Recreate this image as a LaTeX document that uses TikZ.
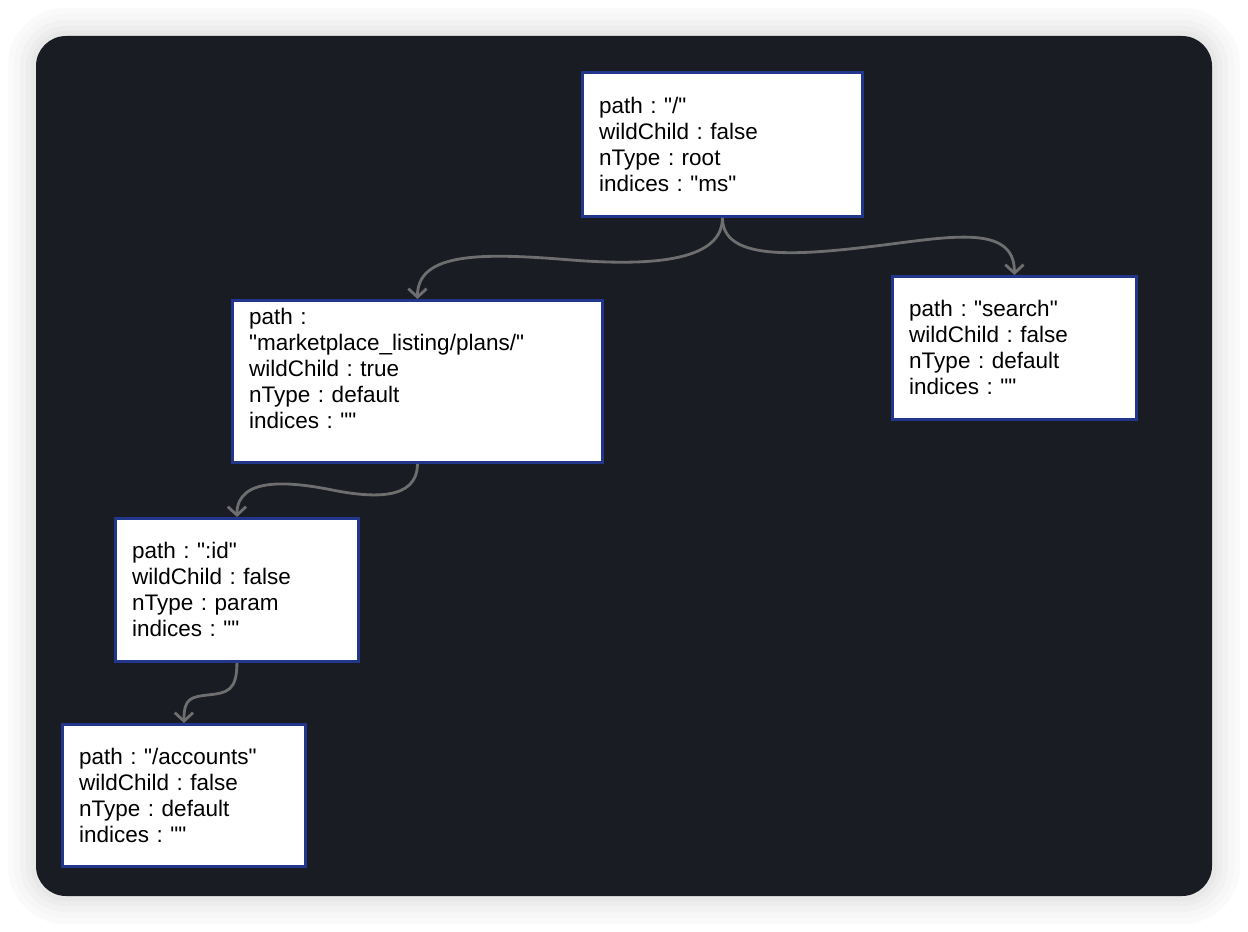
\documentclass[tikz,border=0pt]{standalone}
\usepackage{fontspec}
\setmainfont{Liberation Sans}[Ligatures=TeXOff]
\usetikzlibrary{arrows.meta,positioning}
\definecolor{panel}{HTML}{1A1C24}
\definecolor{nodeblue}{HTML}{22368C}
\definecolor{linkgray}{HTML}{6E6E6E}
\tikzset{
  trienode/.style={draw=nodeblue, line width=2pt, fill=white, rectangle,
    anchor=north west, align=left, inner xsep=0.42cm,
    font=\fontsize{16}{18.5}\selectfont\frenchspacing},
  link/.style={draw=linkgray, line width=2pt,
    -{Straight Barb[length=6pt,width=13pt]}}
}
\begin{document}
\begin{tikzpicture}[x=0.025cm,y=-0.025cm]
  % Page and soft shadow
  \useasboundingbox (0,0) rectangle (1248,932);
  \fill[white] (0,0) rectangle (1248,932);
  \foreach \d/\s in {28/2,22/3,16/5,10/7,5/9}{
    \pgfmathsetmacro\rr{0.75+0.025*\d}
    \fill[black!\s, rounded corners=\rr cm] (36-\d,36-\d) rectangle (1212+\d,896+\d);
  }
  % Dark panel
  \fill[panel, rounded corners=0.75cm] (36,36) rectangle (1212,896);
  % Tree nodes
  \node[trienode, text width=6.16cm, minimum height=3.6cm] (root) at (581,71)
    {path : "/"\\ wildChild : false\\ nType : root\\ indices : "ms"};
  \node[trienode, text width=5.26cm, minimum height=3.575cm] (search) at (891,275)
    {path : "search"\\ wildChild : false\\ nType : default\\ indices : ""};
  \node[trienode, text width=8.41cm, minimum height=4.05cm, text depth=3.25cm] (market) at (231,299)
    {path :\\ "marketplace\_listing/plans/"\\ wildChild : true\\ nType : default\\ indices : ""};
  \node[trienode, text width=5.235cm, minimum height=3.575cm] (id) at (114,517)
    {path : ":id"\\ wildChild : false\\ nType : param\\ indices : ""};
  \node[trienode, text width=5.235cm, minimum height=3.55cm] (accounts) at (61,723)
    {path : "/accounts"\\ wildChild : false\\ nType : default\\ indices : ""};
  % Edges
  \draw[link] (root.south) .. controls +(0,42) and +(87,7) .. ++(-153,42)
    .. controls +(-87,-7) and +(0,-47) .. (market.north);
  \draw[link] (root.south) .. controls +(0,42) and +(-77,9) .. ++(146,29)
    .. controls +(77,-9) and +(0,-53) .. (search.north);
  \draw[link] (market.south) .. controls +(0,37) and +(40,8) .. ++(-86,26)
    .. controls +(-40,-8) and +(0,-41) .. (id.north);
  \draw[link] (id.south) .. controls +(0,28) and +(18,-2) .. ++(-28,32)
    .. controls +(-18,2) and +(0,-25) .. (accounts.north);
\end{tikzpicture}
\end{document}
